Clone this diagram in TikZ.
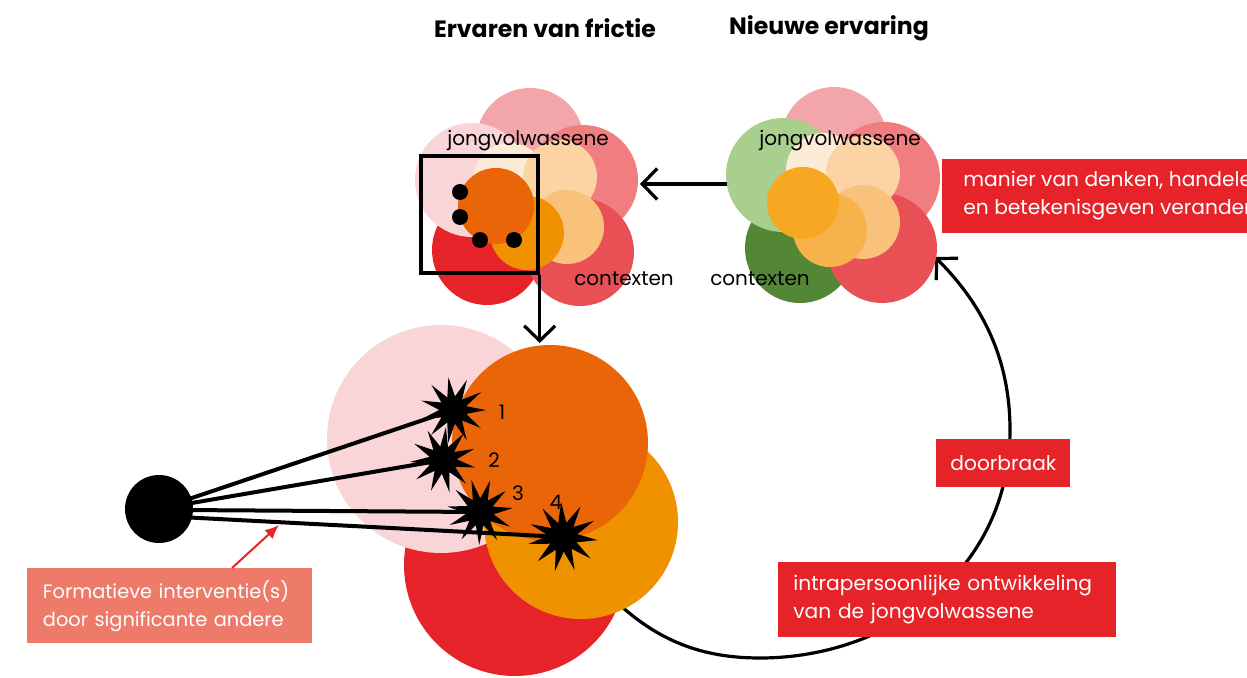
\documentclass[tikz,border=0pt]{standalone}
\usepackage{fontspec}
\setmainfont{Poppins}
\usetikzlibrary{arrows.meta,shapes.geometric}
\definecolor{pinkTop}{HTML}{F2A6AA}
\definecolor{pinkLight}{HTML}{F9D5D8}
\definecolor{salmonC}{HTML}{F07D80}
\definecolor{redB}{HTML}{E95055}
\definecolor{redA}{HTML}{E52329}
\definecolor{beigeC}{HTML}{FCEBD6}
\definecolor{peachC}{HTML}{FCD4A4}
\definecolor{apricotC}{HTML}{F8C17C}
\definecolor{orangeC}{HTML}{F09200}
\definecolor{darkOrange}{HTML}{EA6508}
\definecolor{greenL}{HTML}{A8CF8E}
\definecolor{greenD}{HTML}{548735}
\definecolor{orangeTwo}{HTML}{F7B24C}
\definecolor{orangeThree}{HTML}{F7A823}
\definecolor{boxRed}{HTML}{E52329}
\definecolor{boxSalmon}{HTML}{EE7B69}
\begin{document}
\begin{tikzpicture}[x=0.5pt,y=-0.5pt,
  hdr/.style={font=\bfseries\fontsize{11.8}{13}\selectfont, inner sep=0},
  lbl/.style={font=\fontsize{10}{12}\selectfont, inner sep=0},
  boxtxt/.style={font=\fontsize{10.1}{14}\selectfont, text=white, align=left},
  burst/.style={star, star points=11, star point ratio=2.4, fill=black, inner sep=0, minimum size=33pt},
  num/.style={font=\fontsize{10}{12}\selectfont, inner sep=0},
  conn/.style={line width=1.6pt, -{Straight Barb[length=7.5pt,width=15.5pt,line width=1.6pt]}},
  ray/.style={line width=2pt}]
\clip (0,0) rectangle (1247,678);
\fill[white] (0,0) rectangle (1247,678);

% headers
\node[hdr] (h1) at (545,28) {Ervaren van frictie};
\node[hdr] (h2) at (829,28) {Nieuwe ervaring};

% big loop arc (behind bottom circles)
\coordinate (arcStart) at (600,585);
\coordinate (arcEnd) at (935,257);
\draw[conn] (arcStart) .. controls (650,640) and (700,658) .. (760,658)
  .. controls (890,658) and (1010,570) .. (1010,430)
  .. controls (1010,350) and (975,297) .. (arcEnd);

% top-left cluster
\fill[pinkTop] (530,142) circle[radius=27pt];
\fill[redA] (487,250) circle[radius=27.5pt];
\fill[pinkLight] (472,180) circle[radius=28.5pt];
\fill[salmonC] (583,180) circle[radius=27.5pt];
\fill[redB] (580,252) circle[radius=27pt];
\fill[beigeC] (510,180) circle[radius=18.5pt];
\fill[peachC] (560,177) circle[radius=18.5pt];
\fill[apricotC] (567,227) circle[radius=18.5pt];
\fill[orangeC] (527,233) circle[radius=18.5pt];
\fill[darkOrange] (496,206) circle[radius=19pt];
\fill[black] (460,192) circle[radius=4pt];
\fill[black] (460,217) circle[radius=4pt];
\fill[black] (480,240) circle[radius=4pt];
\fill[black] (514,240) circle[radius=4pt];
\node[lbl] (j1) at (528,141) {jongvolwassene};
\node[lbl] (c1) at (624,279) {contexten};
\node[draw, line width=1.7pt, minimum width=58.5pt, minimum height=58.5pt, inner sep=0] (frame) at (479.5,214.5) {};

% top-right cluster
\fill[pinkTop] (834,140) circle[radius=26.5pt];
\fill[greenD] (800,248) circle[radius=27.5pt];
\fill[greenL] (783,175) circle[radius=28.5pt];
\fill[salmonC] (884,178) circle[radius=28pt];
\fill[redB] (882,248) circle[radius=27.5pt];
\fill[beigeC] (823,170) circle[radius=18.5pt];
\fill[peachC] (863,173) circle[radius=18.5pt];
\fill[apricotC] (863,222) circle[radius=18.5pt];
\fill[orangeTwo] (830,230) circle[radius=18.5pt];
\fill[orangeThree] (803,203) circle[radius=18pt];
\node[lbl] (j2) at (840,141) {jongvolwassene};
\node[lbl] (c2) at (760,279) {contexten};

% arrows between clusters
\coordinate (hA) at (727,184);
\coordinate (hB) at (640,184);
\draw[conn] (hA) -- (hB);
\coordinate (vB) at (frame.south east |- 0,343);
\draw[conn] (frame.south east) -- (vB);

% right red box (cut off by the picture edge, as in the original)
\node[boxtxt, fill=boxRed, anchor=west, inner xsep=10.5pt, minimum height=37pt] (manier) at (942,196)
  {manier van denken, handelen\\en betekenisgeven verandert};

% bottom cluster
\fill[redA] (515,565) circle[radius=55.5pt];
\fill[pinkLight] (441,439) circle[radius=57pt];
\fill[orangeC] (581,522) circle[radius=48.5pt];
\fill[darkOrange] (550,443) circle[radius=49pt];

% source and rays
\node[circle, fill=black, minimum size=34pt, inner sep=0] (src) at (159,509) {};
\coordinate (s1) at (180,502);
\coordinate (s2) at (180,505);
\coordinate (s3) at (180,510);
\coordinate (s4) at (180,517);
\node[burst, rotate=8] (st1) at (453,410) {};
\node[burst, rotate=-5] (st2) at (443,460) {};
\node[burst, rotate=15] (st3) at (480,512) {};
\node[burst, minimum size=35pt, rotate=3] (st4) at (563,537) {};
\draw[ray] (s1) -- (st1.center);
\draw[ray] (s2) -- (st2.center);
\draw[ray] (s3) -- (st3.center);
\draw[ray] (s4) -- (st4.center);
\node[num] (n1) at (502,412) {1};
\node[num] (n2) at (494,460) {2};
\node[num] (n3) at (518,493) {3};
\node[num] (n4) at (556,502) {4};

% boxes
\node[boxtxt, font=\fontsize{9.7}{14}\selectfont, fill=boxSalmon, anchor=north west, minimum width=142.5pt, minimum height=37.5pt, text width=130pt, inner xsep=6.25pt] (form) at (27,568)
  {\hspace*{1.5pt}Formatieve interventie(s)\\\hspace*{1.5pt}door significante andere};
\coordinate (fA) at (232,568);
\coordinate (fB) at (279,525);
\draw[boxRed, line width=1pt, -{Latex[length=7pt,width=6pt]}] (fA) -- (fB);

\node[boxtxt, fill=boxRed, anchor=north west, minimum width=67pt, minimum height=24pt, align=center, inner sep=0] (door) at (936,439) {doorbraak};
\node[boxtxt, fill=boxRed, anchor=north west, minimum width=169pt, minimum height=37.5pt, text width=154pt, inner xsep=7.5pt] (intra) at (778,562)
  {intrapersoonlijke ontwikkeling\\van de jongvolwassene};
\end{tikzpicture}
\end{document}
